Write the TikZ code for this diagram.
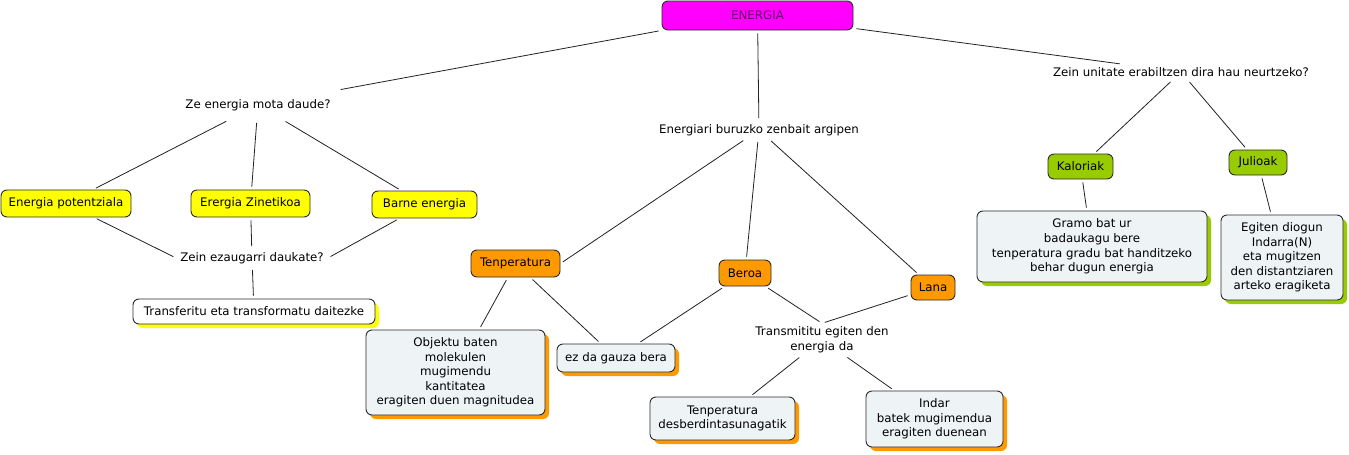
\documentclass[tikz,border=0pt]{standalone}
\usepackage{fontspec}
\setmainfont{DejaVu Sans}
\usetikzlibrary{shadows}
\definecolor{cmag}{HTML}{FF00FF}
\definecolor{cpurple}{HTML}{6A006A}
\definecolor{cyellow}{HTML}{FFFF00}
\definecolor{corange}{HTML}{FF9900}
\definecolor{cgreen}{HTML}{99CC00}
\definecolor{clight}{HTML}{EEF3F5}
\definecolor{cborder}{HTML}{2B2B2B}
\definecolor{cline}{HTML}{222222}
\begin{document}
\begin{tikzpicture}[x=1pt,y=-1pt,
  every node/.style={font=\fontsize{11.8}{14.6}\selectfont, align=center},
  box/.style={draw=cborder, line width=0.9pt, rounded corners=6pt, inner sep=2pt},
  lbl/.style={inner xsep=4pt, inner ysep=3pt},
  conn/.style={draw=cline, line width=0.8pt, shorten <=3pt, shorten >=3pt},
  yshad/.style={general shadow={fill=cyellow, shadow xshift=4pt, shadow yshift=-4pt}},
  oshad/.style={general shadow={fill=corange, shadow xshift=4pt, shadow yshift=-4pt}},
  gshad/.style={general shadow={fill=cgreen, shadow xshift=4pt, shadow yshift=-4pt}}]
\useasboundingbox[fill=white] (0,0) rectangle (1349,455);

% top
\node[box, fill=cmag, text=cpurple, minimum width=191pt, minimum height=29pt] (energia) at (757.5,15.5) {ENERGIA};

% labels
\node[lbl, inner xsep=7pt, inner ysep=9pt] (ze) at (258,105) {Ze energia mota daude?};
\node[lbl] (zeinEz) at (252,258) {Zein ezaugarri daukate?};
\node[lbl] (energiari) at (759,130) {Energiari buruzko zenbait argipen};
\node[lbl] (unitate) at (1181,72) {Zein unitate erabiltzen dira hau neurtzeko?};
\node[lbl] (transm) at (822,339.5) {Transmititu egiten den\\energia da};

% yellow
\node[box, fill=cyellow, minimum width=130pt, minimum height=27pt] (ep) at (66,203.5) {Energia potentziala};
\node[box, fill=cyellow, minimum width=119pt, minimum height=27pt] (ez) at (250.5,203.5) {Erergia Zinetikoa};
\node[box, fill=cyellow, minimum width=105pt, minimum height=27pt] (be) at (424.5,204.5) {Barne energia};
\node[box, fill=white, yshad, minimum width=242pt, minimum height=25pt] (tr) at (254,311.5) {Transferitu eta transformatu daitezke};

% orange
\node[box, fill=corange, minimum width=89pt, minimum height=27pt] (tenp) at (515.5,263.5) {Tenperatura};
\node[box, fill=corange, minimum width=52pt, minimum height=26pt] (beroa) at (745,273) {Beroa};
\node[box, fill=corange, minimum width=44pt, minimum height=25pt] (lana) at (933,287.5) {Lana};
\node[box, fill=clight, oshad, minimum width=179pt, minimum height=85pt] (obj) at (455.5,372.5) {Objektu baten\\molekulen\\mugimendu\\kantitatea\\eragiten duen magnitudea};
\node[box, fill=clight, oshad, minimum width=118pt, minimum height=28pt] (ezda) at (616,358) {ez da gauza bera};
\node[box, fill=clight, oshad, minimum width=145pt, minimum height=43pt] (td) at (722.5,418.5) {Tenperatura\\desberdintasunagatik};
\node[box, fill=clight, oshad, minimum width=137pt, minimum height=56pt] (indar) at (934.5,419) {Indar\\batek mugimendua\\eragiten duenean};

% green
\node[box, fill=cgreen, minimum width=65pt, minimum height=25pt] (kal) at (1080.5,166.5) {Kaloriak};
\node[box, fill=cgreen, minimum width=58pt, minimum height=25pt] (jul) at (1258,162.5) {Julioak};
\node[box, fill=clight, gshad, minimum width=230pt, minimum height=71pt] (gramo) at (1092,246.5) {Gramo bat ur\\badaukagu bere\\tenperatura gradu bat handitzeko\\behar dugun energia};
\node[box, fill=clight, gshad, minimum width=122pt, minimum height=85pt] (egiten) at (1282,257.5) {Egiten diogun\\Indarra(N)\\eta mugitzen\\den distantziaren\\arteko eragiketa};

% connectors
\draw[conn] (energia.south west) -- (ze.north east);
\draw[conn] (energia) -- (energiari);
\draw[conn] (energia) -- (unitate);
\draw[conn] (ze) -- (ep);
\draw[conn] (ze) -- (ez);
\draw[conn] (ze) -- (be);
\draw[conn] (ep) -- (zeinEz.west);
\draw[conn] (ez) -- (zeinEz);
\draw[conn] (be) -- (zeinEz.east);
\draw[conn] (zeinEz) -- (tr);
\draw[conn] (energiari) -- (tenp.east);
\draw[conn] (energiari) -- (beroa);
\draw[conn] (energiari) -- (lana);
\draw[conn] (tenp) -- (obj);
\draw[conn] (tenp) -- (ezda);
\draw[conn] (beroa) -- (ezda);
\draw[conn] (beroa) -- (transm.north);
\draw[conn] (lana) -- (transm.north);
\draw[conn] (transm) -- (td);
\draw[conn] (transm) -- (indar);
\draw[conn] (unitate) -- (kal);
\draw[conn] (unitate) -- (jul);
\draw[conn] (kal) -- (gramo);
\draw[conn] (jul) -- (egiten);
\end{tikzpicture}
\end{document}
